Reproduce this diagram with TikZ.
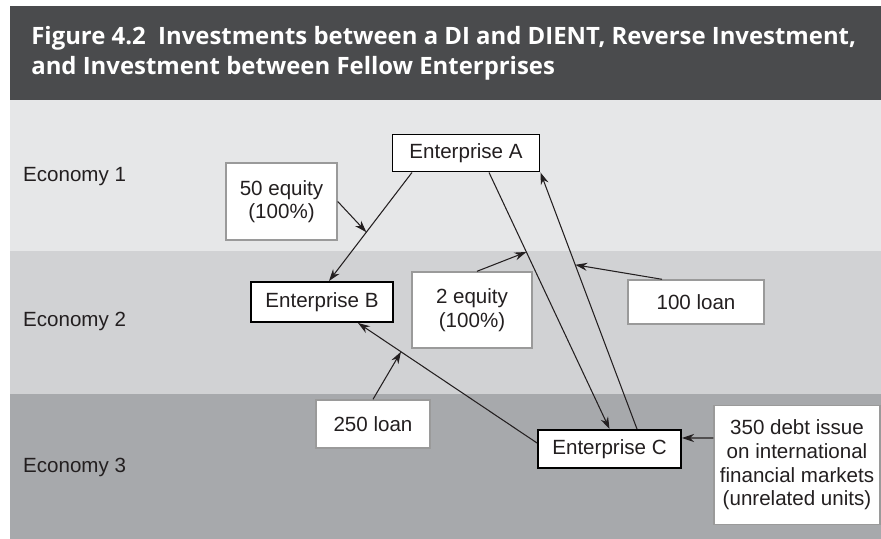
\documentclass[tikz,border=0pt]{standalone}
\usepackage{fontspec}
\setmainfont{Liberation Sans}
\newfontfamily\titlefont{Open Sans}
\usetikzlibrary{arrows.meta}

\definecolor{headgray}{HTML}{4A4B4D}
\definecolor{econA}{HTML}{E6E7E8}
\definecolor{econB}{HTML}{D1D2D4}
\definecolor{econC}{HTML}{A7A9AC}
\definecolor{boxline}{HTML}{9A9A9A}
\definecolor{ink}{HTML}{231F20}

\tikzset{
  firm/.style={draw=black, line width=1.1pt, fill=white, text=ink, inner sep=0pt},
  flowbox/.style={draw=boxline, line width=0.8pt, fill=white, text=ink, inner sep=0pt, align=center},
  flow/.style={draw=ink, line width=0.6pt, -{Stealth[length=2.4mm,width=1.6mm]}},
  econ/.style={anchor=base west, text=ink},
  headline/.style={anchor=base west, text=white, inner sep=0pt, font=\titlefont\bfseries\fontsize{13.6}{15}\selectfont}
}

\begin{document}
\begin{tikzpicture}[font=\fontsize{11.7}{13.4}\selectfont]
        \useasboundingbox (0,0) rectangle (17.62,10.78);

        % Header
        \fill[headgray] (0.2,8.78) rectangle (17.62,10.66);
        \node[headline] (title1) at (0.62,9.88) {Figure 4.2\ \ Investments between a DI and DIENT, Reverse Investment,};
        \node[headline] (title2) at (0.62,9.28) {and Investment between Fellow Enterprises};

        % Economy bands
        \fill[econA] (0.2,5.76) rectangle (17.62,8.78);
        \fill[econB] (0.2,2.90) rectangle (17.62,5.76);
        \fill[econC] (0.2,0) rectangle (17.62,2.90);

        % Economy labels
        \node[econ] (eco1) at (0.34,7.14) {Economy 1};
        \node[econ] (eco2) at (0.34,4.24) {Economy 2};
        \node[econ] (eco3) at (0.34,1.32) {Economy 3};

        % Enterprises
        \node[firm, minimum width=2.94cm, minimum height=0.74cm] (entA) at (9.32,7.72) {Enterprise A};
        \node[firm, minimum width=2.84cm, minimum height=0.80cm] (entB) at (6.44,4.74) {Enterprise B};
        \node[firm, minimum width=2.86cm, minimum height=0.76cm] (entC) at (12.19,1.80) {Enterprise C};

        % Amounts
        \node[flowbox, minimum width=2.22cm, minimum height=1.54cm] (eq50) at (5.63,6.75) {50 equity\\(100\%)};
        \node[flowbox, minimum width=2.40cm, minimum height=1.52cm] (eq2) at (9.44,4.58) {2 equity\\(100\%)};
        \node[flowbox, minimum width=2.72cm, minimum height=0.88cm] (loan100) at (13.92,4.74) {100 loan};
        \node[flowbox, minimum width=2.28cm, minimum height=0.96cm] (loan250) at (7.46,2.30) {250 loan};
        \node[flowbox, minimum width=3.32cm, minimum height=2.38cm] (debt) at (15.94,1.48) {350 debt issue\\on international\\financial markets\\(unrelated units)};

        % Investment flows
        \draw[flow] ([xshift=-1.08cm]entA.south) -- coordinate[pos=0.55] (ab) ([xshift=0.14cm]entB.north);
        \draw[flow] ([xshift=0.46cm]entA.south) -- coordinate[pos=0.31] (ac) (entC.north);
        \draw[flow] ([xshift=0.55cm]entC.north) -- coordinate[pos=0.64] (ca) (entA.south east);
        \draw[flow] ([yshift=0.12cm]entC.west) -- coordinate[pos=0.76] (cb) ([xshift=0.72cm]entB.south);

        % Pointers from amounts
        \draw[flow] (eq50.east) -- (ab);
        \draw[flow] ([xshift=0.1cm]eq2.north) -- (ac);
        \draw[flow] ([xshift=-0.68cm]loan100.north) -- (ca);
        \draw[flow] (loan250.north) -- (cb);
        \draw[flow] ([yshift=0.54cm]debt.west) -- ([yshift=0.22cm]entC.east);
\end{tikzpicture}
\end{document}
